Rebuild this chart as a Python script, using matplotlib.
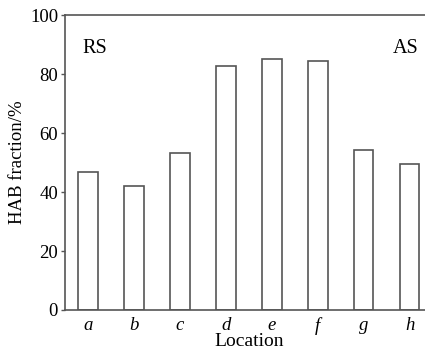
import matplotlib.pyplot as plt

# HAB fraction by location
locations = ['a', 'b', 'c', 'd', 'e', 'f', 'g', 'h']
hab_fraction = [46.9, 42.0, 53.1, 82.6, 85.2, 84.3, 54.3, 49.5]
yticks = [0, 20, 40, 60, 80, 100]

plt.rcParams['font.family'] = 'Liberation Serif'

fig = plt.figure(figsize=(4.25, 3.54), dpi=100)
ax = fig.add_axes([0.153, 0.1243, 0.865, 0.8333])

x = range(len(locations))
ax.bar(x, hab_fraction, width=0.425, color='white', edgecolor='#555555', linewidth=1.2)

ax.set_xlim(-0.5, len(locations) - 0.5)
ax.set_ylim(0, 100)
ax.set_yticks(yticks)
ax.set_xticks(list(x))
ax.set_xticklabels(locations, fontstyle='italic', fontsize=13.5)
ax.tick_params(axis='y', direction='out', length=3, width=1, labelsize=13.5, pad=2, color='#555555')
ax.tick_params(axis='x', length=0, pad=5)

for s in ax.spines.values():
    s.set_color('#555555')
    s.set_linewidth(1.2)

ax.set_ylabel('HAB fraction/%', fontsize=13.5, labelpad=3)
ax.set_xlabel('Location', fontsize=14, labelpad=-1)

ax.text(-0.12, 88.8, 'RS', fontsize=14.5, ha='left', va='center')
ax.text(7.2, 88.8, 'AS', fontsize=14.5, ha='right', va='center')

fig.savefig('out.png', dpi=100)
